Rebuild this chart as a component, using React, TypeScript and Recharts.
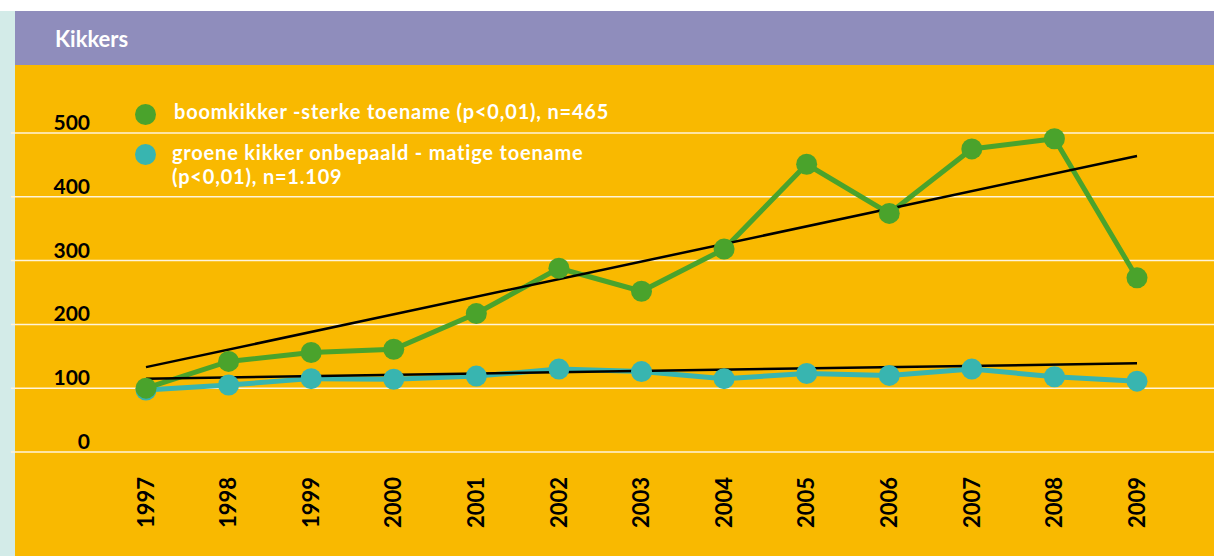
import { LineChart, Line, XAxis, YAxis, CartesianGrid } from "recharts";

const years = ["1997", "1998", "1999", "2000", "2001", "2002", "2003", "2004", "2005", "2006", "2007", "2008", "2009"];
const boomkikker = [100, 142, 156, 161, 217, 288, 252, 318, 451, 374, 475, 491, 273];
const groeneKikker = [97, 105, 115, 114, 119, 130, 126, 115, 123, 120, 130, 118, 111];
const boomTrend = [133, null, null, null, null, null, null, null, null, null, null, null, 464];
const groeneTrend = [115, null, null, null, null, null, null, null, null, null, null, null, 139];
const yTicks = [0, 100, 200, 300, 400, 500];

const GREEN = "#4AA32C";
const CYAN = "#38B5B0";
const ORANGE = "#F9B900";
const PURPLE = "#8F8DBC";
const FONT = "Lato, 'Noto Sans', sans-serif";

const data = years.map((year, i) => ({
  year,
  boom: boomkikker[i],
  groen: groeneKikker[i],
  boomTrend: boomTrend[i],
  groenTrend: groeneTrend[i],
}));

function YearTick({ x, y, payload }: any) {
  const ty = y + 17;
  return (
    <text
      x={x}
      y={ty}
      transform={`rotate(-90, ${x}, ${ty})`}
      textAnchor="end"
      dy="0.35em"
      fill="#000"
      style={{ fontFamily: FONT, fontWeight: 700, fontSize: 22 }}
    >
      {payload.value}
    </text>
  );
}

function ValueTick({ y, payload }: any) {
  return (
    <text
      x={90}
      y={y - 3}
      textAnchor="end"
      fill="#000"
      style={{ fontFamily: FONT, fontWeight: 700, fontSize: 21 }}
    >
      {payload.value}
    </text>
  );
}

const legendText = {
  position: "absolute" as const,
  color: "#fff",
  fontFamily: FONT,
  fontWeight: 700,
  fontSize: 20,
  letterSpacing: 0.8,
  lineHeight: "24px",
  whiteSpace: "nowrap" as const,
};

function dotStyle(color: string, cx: number, cy: number) {
  return {
    position: "absolute" as const,
    left: cx - 10.5,
    top: cy - 10.5,
    width: 21,
    height: 21,
    borderRadius: "50%",
    background: color,
  };
}

export default function App() {
  return (
    <div
      style={{
        position: "absolute",
        left: 0,
        top: 0,
        width: 1214,
        height: 556,
        background: "#fff",
        overflow: "hidden",
      }}
    >
      <div style={{ position: "absolute", left: 0, top: 11, width: 15, height: 545, background: "#D3EBE8" }} />
      <div style={{ position: "absolute", left: 15, top: 11, width: 1199, height: 54, background: PURPLE }} />
      <div
        style={{
          position: "absolute",
          left: 55,
          top: 28,
          color: "#fff",
          fontFamily: FONT,
          fontWeight: 700,
          fontSize: 22,
          lineHeight: "22px",
        }}
      >
        Kikkers
      </div>
      <div style={{ position: "absolute", left: 15, top: 65, width: 1199, height: 491, background: ORANGE }} />
      <div style={{ position: "absolute", left: 0, top: 65 }}>
        <LineChart width={1214} height={491} data={data} margin={{ top: 68, right: 0, bottom: 0, left: 10 }}>
          <CartesianGrid horizontal vertical={false} stroke="#FFF4D8" strokeWidth={1.5} />
          <XAxis
            dataKey="year"
            height={104}
            axisLine={false}
            tickLine={false}
            interval={0}
            padding={{ left: 135, right: 77 }}
            tick={<YearTick />}
          />
          <YAxis
            width={1}
            domain={[0, 500]}
            ticks={yTicks}
            interval={0}
            axisLine={false}
            tickLine={false}
            tick={<ValueTick />}
          />
          <Line
            dataKey="groen"
            stroke={CYAN}
            strokeWidth={5}
            dot={{ r: 10.5, fill: CYAN, stroke: "none" }}
            isAnimationActive={false}
          />
          <Line
            dataKey="boom"
            stroke={GREEN}
            strokeWidth={5}
            dot={{ r: 10.5, fill: GREEN, stroke: "none" }}
            isAnimationActive={false}
          />
          <Line
            dataKey="boomTrend"
            stroke="#000"
            strokeWidth={2.5}
            dot={false}
            connectNulls
            isAnimationActive={false}
          />
          <Line
            dataKey="groenTrend"
            stroke="#000"
            strokeWidth={2.5}
            dot={false}
            connectNulls
            isAnimationActive={false}
          />
        </LineChart>
      </div>
      {/* legend */}
      <div style={dotStyle(GREEN, 145, 114)} />
      <div style={{ ...legendText, left: 174, top: 99 }}>boomkikker -sterke toename (p&lt;0,01), n=465</div>
      <div style={dotStyle(CYAN, 145, 154)} />
      <div style={{ ...legendText, left: 172, top: 140 }}>groene kikker onbepaald - matige toename</div>
      <div style={{ ...legendText, left: 172, top: 164 }}>(p&lt;0,01), n=1.109</div>
    </div>
  );
}
